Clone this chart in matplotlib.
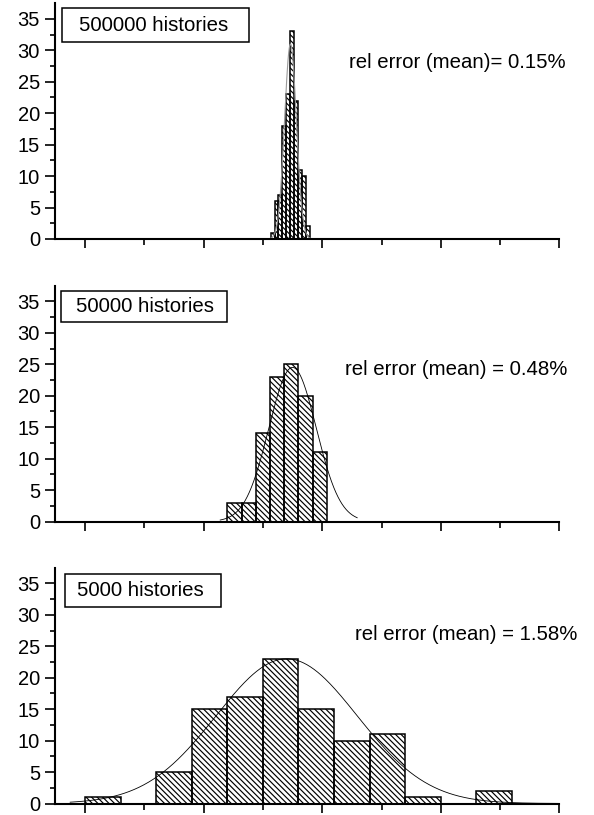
import numpy as np
import matplotlib
matplotlib.use("Agg")
import matplotlib.pyplot as plt
from matplotlib.patches import Rectangle

plt.rcParams['font.family'] = ['Liberation Sans', 'DejaVu Sans']
plt.rcParams['hatch.linewidth'] = 0.85

# x in units of the (unlabelled) tick spacing
xticks_major = [0, 2, 4, 6, 8]
xticks_minor = [1, 3, 5, 7]
yticks_major = [0, 5, 10, 15, 20, 25, 30, 35]

panel_labels = ["500000 histories", "50000 histories", "5000 histories"]
rel_errors = ["rel error (mean)= 0.15%", "rel error (mean) = 0.48%",
              "rel error (mean) = 1.58%"]

top_start, top_width = 3.13, 0.066
top_counts = [1, 6, 7, 18, 23, 33, 22, 11, 10, 2]
mid_start, mid_width = 2.40, 0.24
mid_counts = [3, 3, 14, 23, 25, 20, 11]
bot_start, bot_width = 0.0, 0.6
bot_counts = [1, 0, 5, 15, 17, 23, 15, 10, 11, 1, 0, 2]

# Gaussian fits: amplitude, centre, sigma, x-from, x-to
top_fit = (31, 3.465, 0.10, 3.10, 3.85)
mid_fit = (24.5, 3.50, 0.40, 2.28, 4.59)
bot_fit = (23.0, 3.40, 1.19, -0.25, 8.0)

fig = plt.figure(figsize=(5.94, 8.15), dpi=100)

W, H = 594, 815
left_px, right_px = 55.35, 559.4
baselines = [239, 521.5, 803.5]
ymax = 37.5
px_per_unit = 6.29

panels = [
    (top_start, top_width, top_counts, top_fit, "#9a9a9a", 0.8),
    (mid_start, mid_width, mid_counts, mid_fit, "black", 0.6),
    (bot_start, bot_width, bot_counts, bot_fit, "black", 0.6),
]
boxes = [  # x0, x1, y0, y1, text-x (axes fraction)
    (0.0132, 0.384, 0.836, 0.9776, 0.047),
    (0.011, 0.340, 0.846, 0.9775, 0.041),
    (0.019, 0.329, 0.835, 0.975, 0.042),
]
rel_pos = [(8.11, 28.0), (8.13, 24.2), (8.31, 26.9)]

for i, (start, width, counts, fit, fcol, flw) in enumerate(panels):
    base = baselines[i]
    h_px = ymax * px_per_unit
    ax = fig.add_axes([left_px / W, (H - base) / H,
                       (right_px - left_px) / W, h_px / H])
    edges = start + width * np.arange(len(counts))
    ax.bar(edges, counts, width=width, align='edge', fill=False,
           edgecolor='black', linewidth=1.1, hatch='\\\\\\\\\\\\')
    A, c, s, x0, x1 = fit
    xs = np.linspace(x0, x1, 400)
    ax.plot(xs, A * np.exp(-0.5 * ((xs - c) / s) ** 2), color=fcol, lw=flw)

    ax.set_xlim(-0.5, 8)
    ax.set_ylim(0, ymax)
    for sp in ['top', 'right']:
        ax.spines[sp].set_visible(False)
    for sp in ['left', 'bottom']:
        ax.spines[sp].set_linewidth(1.5)
    ax.set_xticks(xticks_major)
    ax.set_xticks(xticks_minor, minor=True)
    ax.set_yticks(yticks_major)
    ax.set_yticks(np.arange(2.5, 36, 5), minor=True)
    ax.tick_params(axis='x', which='major', direction='out', length=6.5,
                   width=1.2, labelbottom=False)
    ax.tick_params(axis='x', which='minor', direction='out', length=4,
                   width=1.2)
    ax.tick_params(axis='y', which='major', direction='out', length=7,
                   width=1.2, labelsize=14.5, pad=4)
    ax.tick_params(axis='y', which='minor', direction='out', length=3.6,
                   width=1.2)

    bx0, bx1, by0, by1, tx = boxes[i]
    ax.add_patch(Rectangle((bx0, by0), bx1 - bx0, by1 - by0,
                           transform=ax.transAxes, fill=False,
                           edgecolor='black', lw=1.1, clip_on=False))
    ax.text(tx, (by0 + by1) / 2, panel_labels[i], transform=ax.transAxes,
            ha='left', va='center', fontsize=14.7)
    rx, ry = rel_pos[i]
    ax.text(rx, ry, rel_errors[i], ha='right', va='center', fontsize=14.7,
            clip_on=False)

fig.savefig("out.png", dpi=100)
